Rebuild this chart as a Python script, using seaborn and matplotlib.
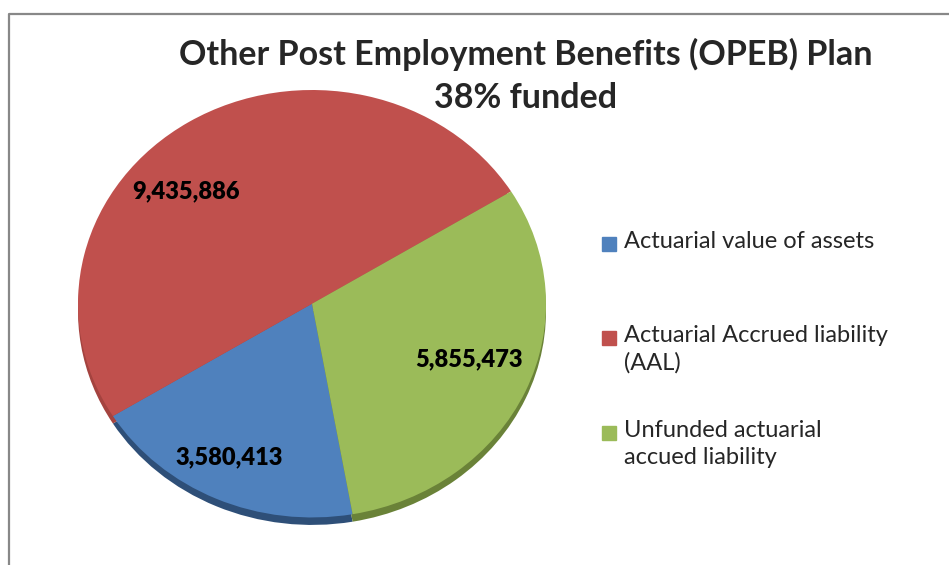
import matplotlib
matplotlib.use("Agg")
import numpy as np
import matplotlib.pyplot as plt
from matplotlib.lines import Line2D
from matplotlib.patches import Rectangle
import seaborn as sns

# Data
categories = ["Actuarial value of assets",
              "Actuarial Accrued liability\n(AAL)",
              "Unfunded actuarial\naccued liability"]
values = [3580413, 9435886, 5855473]
value_labels = ["3,580,413", "9,435,886", "5,855,473"]
title = "Other Post Employment Benefits (OPEB) Plan\n38% funded"

colors = ["#4F81BD", "#C0504D", "#9BBB59"]
dark_colors = ["#2E4F78", "#A4433F", "#6A8238"]

sns.set_theme(style="white")
plt.rcParams["font.family"] = ["Lato", "DejaVu Sans"]

W, H = 949, 565
fig = plt.figure(figsize=(W / 100, H / 100), dpi=100)

# pie axes: ellipse rx=234, ry=218 centred at (312, 308) px
cx, cy, rx, ry = 312, 308, 234, 218
ax = fig.add_axes([(cx - rx) / W, (H - cy - ry) / H, 2 * rx / W, 2 * ry / H])

# 3D rim (shadow pie shifted down)
ax.pie(values, colors=dark_colors, startangle=-80, counterclock=False,
       radius=1.0, center=(0, -0.035), frame=True,
       wedgeprops=dict(linewidth=0))
wedges, _ = ax.pie(values, colors=colors, startangle=-80, counterclock=False,
                   radius=1.0, center=(0, 0), frame=True,
                   wedgeprops=dict(linewidth=0))
ax.set_xlim(-1, 1)
ax.set_ylim(-1.04, 1)
ax.set_aspect("auto")
ax.axis("off")

# value labels placed along each wedge (radius, angle tweak)
label_r = [0.80, 0.75, 0.72]
label_dang = [-2, 14, 3]
for w, lab, r, da in zip(wedges, value_labels, label_r, label_dang):
    ang = np.deg2rad((w.theta1 + w.theta2) / 2 + da)
    ax.text(r * np.cos(ang), r * np.sin(ang), lab, ha="center", va="center",
            fontsize=17, fontweight="heavy", color="black")

# title
fig.text(526 / W, 1 - 38 / H, title, ha="center", va="top", fontsize=24.5,
         fontweight="bold", linespacing=1.4)

# legend
leg_y = [244, 338, 433]
for col, lab, y in zip(colors, categories, leg_y):
    fig.patches.append(Rectangle((602 / W, 1 - (y + 7) / H), 14 / W, 14 / H,
                                 transform=fig.transFigure, color=col))
    fig.text(624 / W, 1 - (y - 13) / H, lab, ha="left", va="top", fontsize=17,
             linespacing=1.35)

# chart border (top and left)
fig.add_artist(Line2D([8.5 / W, 8.5 / W, 1], [0, 1 - 13.5 / H, 1 - 13.5 / H],
                      transform=fig.transFigure, color="#888888", lw=1.6))

fig.savefig("out.png", dpi=100)
